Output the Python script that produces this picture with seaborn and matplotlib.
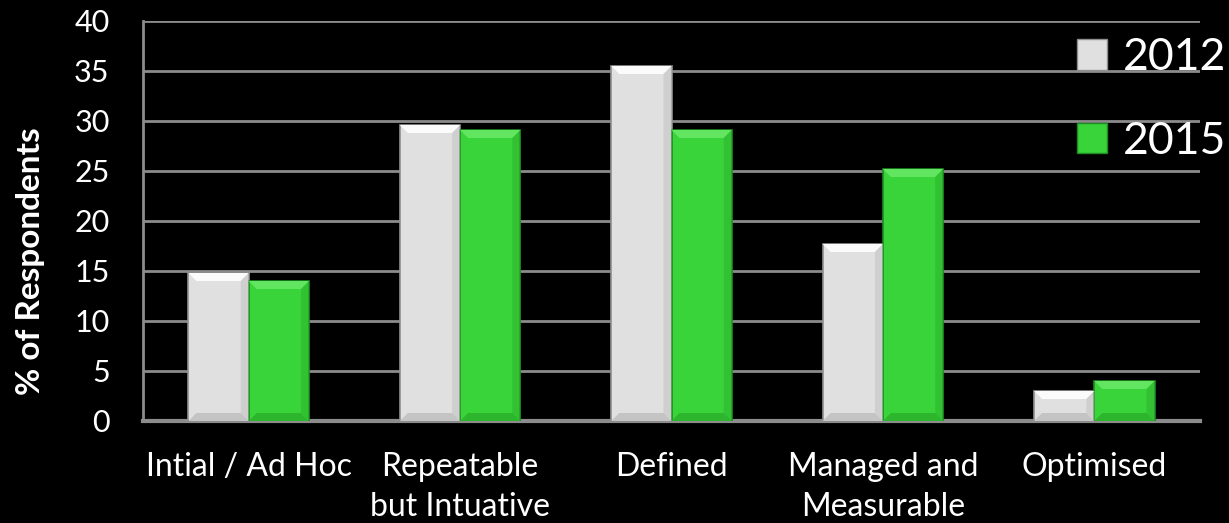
import matplotlib
matplotlib.use("Agg")
import matplotlib.pyplot as plt
from matplotlib.patches import Polygon
import seaborn as sns
import pandas as pd

stages = ["Intial / Ad Hoc", "Repeatable\nbut Intuative", "Defined",
          "Managed and\nMeasurable", "Optimised"]
years = ["2012", "2015"]
pct_2012 = [14.8, 29.6, 35.5, 17.7, 3.0]
pct_2015 = [14.0, 29.1, 29.1, 25.2, 4.0]
yticks = [0, 5, 10, 15, 20, 25, 30, 35, 40]

colors = {"2012": "#e0e0e0", "2015": "#39d43a"}
edge = {"2012": "#8f8f8f", "2015": "#1e8a22"}
light = {"2012": "#fbfbfb", "2015": "#62e662"}
dark = {"2012": "#c4c4c4", "2015": "#2cb52d"}

df = pd.DataFrame({
    "stage": stages * 2,
    "pct": pct_2012 + pct_2015,
    "year": [years[0]] * len(stages) + [years[1]] * len(stages),
})

sns.set_theme(style="dark")
plt.rcParams["font.family"] = ["Lato", "DejaVu Sans"]

W, H = 1229, 523
fig = plt.figure(figsize=(W / 100, H / 100), dpi=100, facecolor="black")
ax = fig.add_axes([143 / W, 1 - 421 / H, 1057 / W, 400 / H])
ax.set_facecolor("black")

sns.barplot(data=df, x="stage", y="pct", hue="year", order=stages,
            hue_order=years, palette=colors, width=0.57, gap=0,
            saturation=1, ax=ax, legend=True, zorder=3)

ax.set_ylim(0, 40)
ax.set_xlim(-0.5, len(stages) - 0.5)

# bevelled bar faces: light top rim, darker bottom/side rims
bx = 8 / 1057 * len(stages)   # rim width in x data units
by = 8 / 400 * 40              # rim height in y data units
for cont, yr in zip(ax.containers, years):
    for p in cont.patches:
        p.set_edgecolor(edge[yr])
        p.set_linewidth(1.2)
        x0, w, h = p.get_x(), p.get_width(), p.get_height()
        x1 = x0 + w
        r = min(by, h / 2.5)
        top = [(x0, h), (x1, h), (x1 - bx, h - r), (x0 + bx, h - r)]
        bot = [(x0, 0), (x1, 0), (x1 - bx, r), (x0 + bx, r)]
        right = [(x1, 0), (x1, h), (x1 - bx, h - r), (x1 - bx, r)]
        ax.add_patch(Polygon(top, closed=True, facecolor=light[yr],
                             edgecolor="none", zorder=3.5))
        ax.add_patch(Polygon(bot, closed=True, facecolor=dark[yr],
                             edgecolor="none", zorder=3.5))
        ax.add_patch(Polygon(right, closed=True, facecolor=dark[yr],
                             edgecolor="none", alpha=0.6, zorder=3.5))

ax.set_yticks(yticks)
ax.set_yticklabels([str(v) for v in yticks], color="white", fontsize=22)
ax.tick_params(axis="y", length=0, pad=24)
ax.tick_params(axis="x", length=0, pad=22, labelcolor="white", labelsize=23)
for t in ax.get_xticklabels():
    t.set_linespacing(1.45)
ax.set_xlabel("")
ax.set_ylabel("% of Respondents", color="white", fontsize=24,
              fontweight="bold")
ax.yaxis.set_label_coords(45 / W, 0.5, transform=fig.transFigure)
ax.yaxis.grid(True, color="#8c8c8c", linewidth=2)
ax.xaxis.grid(False)
ax.set_axisbelow(True)
for side in ["top", "right"]:
    ax.spines[side].set_visible(False)
ax.spines["left"].set_color("#8c8c8c")
ax.spines["left"].set_linewidth(2)
ax.spines["bottom"].set_color("#8c8c8c")
ax.spines["bottom"].set_linewidth(3)

handles, labels = ax.get_legend_handles_labels()
for h, yr in zip(handles, years):
    h.set_edgecolor(edge[yr])
ax.legend(handles, labels, loc="upper left",
          bbox_to_anchor=(1077 / W, 1 - 37 / H),
          bbox_transform=fig.transFigure, frameon=False, borderpad=0,
          borderaxespad=0, fontsize=32, labelcolor="white",
          handlelength=0.68, handleheight=0.68, handletextpad=0.35,
          labelspacing=0.96)

fig.savefig("out.png", dpi=100, facecolor="black")
